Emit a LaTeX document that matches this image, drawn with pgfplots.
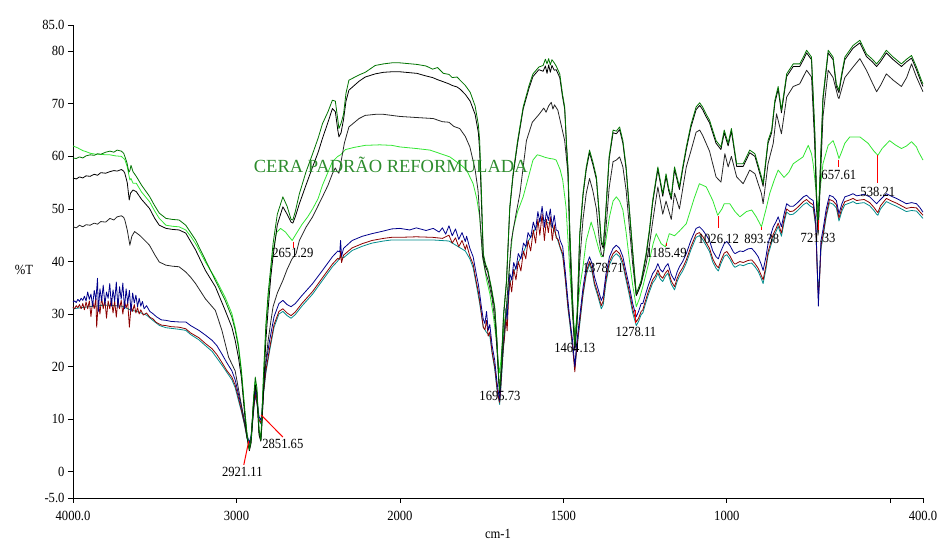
\documentclass[border=0pt]{standalone}
\usepackage{fontspec}
\setmainfont{Liberation Serif}
\newfontfamily\narrowfont{Liberation Serif}[FakeStretch=0.9]
\usepackage{pgfplots}
\pgfplotsset{compat=1.18}
\newcommand\lbl{\narrowfont\fontsize{14}{16}\selectfont}
\definecolor{dgreen}{RGB}{0,115,0}
\definecolor{lgreen}{RGB}{50,230,50}
\definecolor{navyb}{RGB}{0,0,140}
\definecolor{maroonr}{RGB}{140,0,0}
\definecolor{tealc}{RGB}{0,140,140}
\definecolor{titlegreen}{RGB}{45,140,45}
\definecolor{tickred}{RGB}{255,0,0}
\begin{document}
\begin{tikzpicture}
\useasboundingbox (-73pt,-42pt) rectangle (865pt,498pt);
\begin{axis}[
  at={(0,0)}, anchor=south west,
  scale only axis, width=850pt, height=473pt,
  x dir=reverse,
  xmin=-1200, xmax=4000, ymin=-5, ymax=85,
  axis lines*=left,
  axis line style={line width=0.8pt},
  xtick={4000,3000,2000,1000,0,-1000,-1200},
  xticklabels={4000.0,3000,2000,1500,1000,{},400.0},
  ytick={-5,0,10,20,30,40,50,60,70,80,85},
  yticklabels={-5.0,0,10,20,30,40,50,60,70,80,85.0},
  tick align=outside, major tick length=5pt,
  tick style={black, line width=0.8pt},
  minor tick num=0,
  ticklabel style={font=\lbl},
  xticklabel style={yshift=-5pt},
  xlabel={cm-1}, ylabel={\%T},
  xlabel style={at={(axis description cs:0.5,-0.076)}, anchor=center, font=\lbl},
  ylabel style={at={(axis description cs:-0.0576,0.482)}, anchor=center, rotate=-90, font=\lbl},
  every axis plot/.append style={mark=none, line width=0.8pt, line join=round,
    x filter/.code={\pgfmathparse{##1>=2000 ? ##1 : 2*##1-2000}}},
  clip=false,
]
% teal
\addplot[tealc] coordinates {(4000,31.0)(3900,31.4)(3800,31.7)(3700,31.5)(3650,30.8)(3600,30.4)(3550,29.8)(3512,28.8)(3470,27.8)(3431,27.4)(3351,27.1)(3310,26.9)(3280,26.1)(3230,25.1)(3190,24.0)(3149,22.9)(3089,20.3)(3028,17.5)(3008,16.0)(2988,13.6)(2970,11.5)(2950,8.8)(2935,6.3)(2921,5.0)(2910,6.3)(2895,11.5)(2885,14.5)(2875,13.0)(2862,9.8)(2851,9.1)(2845,10.2)(2835,14.6)(2820,18.8)(2797,23.0)(2770,27.5)(2740,30.0)(2716,30.5)(2690,29.7)(2666,29.2)(2640,29.9)(2600,31.5)(2534,33.8)(2474,36.4)(2413,39.0)(2380,40.1)(2363,41.0)(2345,40.7)(2292,42.1)(2230,42.9)(2171,43.5)(2100,43.9)(2050,44.1)(2000,44.1)(1900,44.1)(1850,43.9)(1800,42.0)(1786,40.5)(1776,38.8)(1766,35.5)(1756,32.0)(1745,27.5)(1735,26.5)(1725,25.8)(1718,22.5)(1710,19.5)(1703,15.5)(1695,12.8)(1690,17.0)(1684,23.0)(1676,29.0)(1664,35.8)(1652,38.0)(1638,39.8)(1622,41.8)(1608,43.8)(1592,45.5)(1578,47.2)(1565,48.2)(1552,47.5)(1540,47.2)(1528,46.0)(1516,43.8)(1502,41.0)(1494,36.5)(1486,31.0)(1480,28.0)(1472,23.5)(1465,20.0)(1460,22.5)(1450,28.0)(1440,33.5)(1430,37.5)(1420,39.5)(1412,38.0)(1405,35.5)(1395,33.5)(1384,31.0)(1378,31.8)(1370,35.8)(1359,39.4)(1348,40.9)(1338,41.5)(1328,40.9)(1318,39.3)(1308,36.4)(1298,33.5)(1288,30.2)(1277,27.8)(1270,28.6)(1262,29.9)(1257,30.2)(1250,31.7)(1240,33.7)(1227,35.9)(1218,36.7)(1211,37.8)(1204,36.7)(1196,36.2)(1188,37.2)(1180,37.8)(1170,35.7)(1160,34.6)(1152,36.2)(1145,37.2)(1135,38.2)(1124,39.7)(1110,42.2)(1094,44.6)(1084,44.9)(1074,44.2)(1063,43.0)(1053,41.9)(1043,39.9)(1033,38.7)(1026,38.2)(1018,39.6)(1008,41.0)(1000,41.3)(990,40.4)(980,39.2)(975,38.9)(960,39.4)(950,39.2)(935,39.6)(924,39.7)(914,39.0)(904,38.1)(895,36.8)(889,35.8)(880,38.7)(874,41.2)(866,42.9)(858,44.6)(850,45.6)(843,46.7)(833,44.8)(825,47.4)(817,49.4)(807,48.9)(797,49.0)(787,49.5)(777,50.1)(766,50.8)(756,51.2)(746,50.6)(736,50.2)(728,46.5)(724,39.5)(720,34.0)(716,37.5)(712,42.5)(706,44.5)(696,48.5)(686,51.2)(675,50.9)(665,50.2)(657,47.7)(648,49.6)(639,50.8)(625,51.1)(614,51.4)(603,51.0)(593,51.1)(580,51.2)(563,50.6)(550,49.7)(542,49.0)(538,48.8)(530,50.0)(512,51.4)(496,50.9)(481,50.5)(466,50.0)(451,49.5)(435,49.7)(420,49.6)(410,48.9)(400,48.2)};

% red
\addplot[maroonr] coordinates {(4000,31.3)(3990,31.0)(3980,31.6)(3970,31.2)(3960,31.8)(3950,31.0)(3940,32.0)(3930,30.8)(3920,32.3)(3910,31.0)(3900,32.5)(3890,29.5)(3880,32.4)(3870,31.0)(3860,33.0)(3855,27.5)(3845,32.5)(3835,30.0)(3825,33.2)(3815,31.0)(3805,32.8)(3795,29.2)(3785,32.5)(3775,31.0)(3765,33.0)(3755,30.2)(3745,32.5)(3735,29.4)(3725,32.8)(3715,31.0)(3705,32.6)(3695,30.0)(3685,32.4)(3675,31.2)(3665,32.2)(3655,27.5)(3645,31.5)(3635,30.5)(3625,31.8)(3615,30.2)(3605,31.2)(3595,30.0)(3585,30.8)(3570,29.8)(3550,30.2)(3530,29.4)(3512,29.1)(3490,28.4)(3460,27.9)(3431,27.8)(3400,27.6)(3351,27.5)(3310,27.2)(3280,26.4)(3230,25.5)(3190,24.4)(3149,23.4)(3120,22.3)(3089,20.8)(3060,19.3)(3028,18.0)(3008,16.5)(2988,14.1)(2970,11.8)(2950,9.0)(2935,6.5)(2921,5.2)(2910,6.5)(2895,11.8)(2885,14.8)(2875,13.2)(2862,10.0)(2851,9.3)(2845,10.5)(2835,15.0)(2820,19.2)(2797,23.5)(2770,28.0)(2740,30.5)(2716,31.0)(2690,30.2)(2666,29.7)(2640,30.4)(2600,32.0)(2534,34.3)(2474,36.9)(2413,39.5)(2380,40.6)(2368,40.4)(2363,42.0)(2357,39.8)(2345,41.2)(2292,42.6)(2230,43.4)(2171,44.0)(2100,44.4)(2050,44.6)(2000,44.6)(1950,44.7)(1900,44.6)(1870,44.4)(1850,45.0)(1840,43.5)(1830,44.5)(1820,42.8)(1810,44.0)(1800,42.3)(1796,43.2)(1786,41.0)(1776,39.5)(1766,36.0)(1760,34.2)(1756,32.5)(1750,29.8)(1745,27.5)(1740,27.0)(1735,28.8)(1730,25.8)(1725,26.6)(1718,22.8)(1710,20.0)(1703,16.0)(1698,14.0)(1695,13.2)(1692,15.5)(1688,20.0)(1684,23.5)(1680,25.5)(1676,29.5)(1672,26.8)(1668,32.5)(1664,36.5)(1658,34.2)(1652,38.5)(1645,36.5)(1638,40.0)(1630,38.2)(1622,42.0)(1615,40.5)(1608,44.0)(1600,42.0)(1592,46.0)(1585,43.5)(1578,48.0)(1572,45.0)(1565,49.0)(1558,44.0)(1552,48.0)(1546,45.5)(1540,48.5)(1534,44.0)(1528,47.0)(1522,44.5)(1516,44.2)(1510,42.8)(1502,41.5)(1494,36.8)(1486,31.5)(1480,28.5)(1472,24.0)(1465,19.0)(1460,23.0)(1450,28.5)(1440,34.0)(1430,38.0)(1420,40.0)(1412,38.5)(1405,36.0)(1395,34.0)(1384,31.6)(1378,32.5)(1370,36.5)(1359,40.0)(1348,41.5)(1338,42.1)(1328,41.5)(1318,39.9)(1308,37.0)(1298,34.2)(1288,31.0)(1277,28.5)(1270,29.2)(1262,30.5)(1257,30.8)(1250,32.3)(1240,34.3)(1227,36.5)(1218,37.3)(1211,38.4)(1204,37.3)(1196,36.8)(1188,37.8)(1180,38.4)(1170,36.3)(1160,35.2)(1152,36.8)(1145,37.8)(1135,38.8)(1124,40.3)(1110,42.8)(1094,45.2)(1084,45.5)(1074,44.8)(1063,43.6)(1053,42.5)(1043,40.5)(1033,39.3)(1026,38.8)(1018,40.2)(1008,41.6)(1000,41.9)(990,41.0)(980,39.8)(975,39.5)(960,40.0)(950,39.8)(935,40.2)(924,40.3)(914,39.6)(904,38.7)(895,37.4)(889,36.5)(880,39.3)(874,41.8)(866,43.5)(858,45.2)(850,46.2)(843,47.3)(833,45.4)(825,48.0)(817,50.0)(807,49.5)(797,49.6)(787,50.1)(777,50.7)(766,51.4)(756,51.8)(746,51.2)(736,50.8)(728,47.0)(724,39.0)(720,33.0)(716,37.0)(712,43.0)(706,45.0)(696,49.0)(686,51.8)(675,51.5)(665,50.8)(657,48.3)(648,50.2)(639,51.4)(625,51.7)(614,52.0)(603,51.6)(593,51.7)(580,51.8)(563,51.2)(550,50.3)(542,49.6)(538,49.3)(530,50.6)(512,52.0)(496,51.5)(481,51.1)(466,50.6)(451,50.1)(435,50.3)(420,50.2)(410,49.5)(400,48.8)};

% blue
\addplot[navyb] coordinates {(4000,32.3)(3990,32.5)(3980,32.2)(3970,32.8)(3960,32.4)(3950,33.0)(3940,32.6)(3930,33.4)(3920,32.5)(3910,34.2)(3900,32.8)(3890,33.8)(3880,31.5)(3870,34.5)(3860,32.7)(3850,36.8)(3845,30.5)(3835,34.8)(3825,32.5)(3815,35.5)(3805,31.8)(3795,34.2)(3785,33.0)(3775,35.8)(3765,31.5)(3755,34.6)(3745,32.4)(3735,36.1)(3725,31.2)(3715,35.2)(3705,32.8)(3695,35.9)(3685,31.0)(3675,34.8)(3665,32.0)(3655,34.5)(3645,30.5)(3635,34.0)(3625,32.1)(3615,33.6)(3605,31.4)(3595,33.0)(3585,31.5)(3575,32.4)(3565,31.0)(3550,31.6)(3530,30.5)(3512,30.1)(3490,29.5)(3460,28.9)(3431,28.8)(3400,28.6)(3351,28.5)(3310,28.5)(3280,27.8)(3230,26.9)(3190,26.0)(3149,25.0)(3120,24.0)(3089,22.4)(3060,20.8)(3028,19.2)(3008,17.5)(2988,14.8)(2970,12.5)(2950,9.5)(2935,7.0)(2921,5.5)(2910,7.0)(2895,12.5)(2885,15.5)(2875,14.0)(2862,10.5)(2851,9.8)(2845,11.0)(2835,16.0)(2820,20.5)(2797,25.0)(2770,29.5)(2740,32.0)(2716,32.6)(2690,31.8)(2666,31.4)(2640,32.0)(2600,33.5)(2534,35.8)(2474,38.3)(2413,40.9)(2380,42.0)(2368,41.8)(2363,44.0)(2357,41.0)(2345,42.5)(2292,44.0)(2230,44.8)(2171,45.3)(2100,45.8)(2050,46.2)(2000,46.3)(1970,46.0)(1950,46.4)(1920,45.9)(1898,46.3)(1880,45.6)(1870,46.4)(1860,45.2)(1850,46.8)(1840,44.9)(1830,46.2)(1820,44.2)(1810,45.5)(1800,43.8)(1796,44.8)(1786,42.5)(1776,40.9)(1766,37.5)(1760,35.6)(1756,33.9)(1750,31.0)(1745,29.0)(1740,28.2)(1735,30.5)(1730,26.9)(1725,28.0)(1718,24.0)(1710,21.2)(1703,17.0)(1698,14.8)(1695,13.6)(1692,16.5)(1688,21.0)(1684,25.0)(1680,27.0)(1676,31.0)(1672,29.0)(1668,34.0)(1664,37.7)(1658,36.5)(1652,39.8)(1645,38.5)(1638,41.5)(1630,40.5)(1622,43.5)(1615,42.8)(1608,45.5)(1600,44.5)(1592,47.5)(1585,46.0)(1578,49.5)(1572,47.5)(1565,50.5)(1558,46.5)(1552,49.5)(1546,47.8)(1540,50.0)(1534,46.5)(1528,48.8)(1522,46.0)(1516,45.8)(1510,44.0)(1502,42.8)(1494,38.0)(1486,32.6)(1481,29.5)(1472,25.0)(1465,20.0)(1460,24.0)(1450,29.5)(1440,35.0)(1430,39.0)(1420,40.9)(1412,39.5)(1405,37.1)(1395,35.0)(1384,32.6)(1378,33.5)(1370,37.5)(1359,40.9)(1348,42.5)(1338,43.1)(1328,42.5)(1318,40.9)(1308,38.0)(1298,35.2)(1288,32.0)(1277,29.5)(1270,30.5)(1262,32.0)(1257,32.0)(1250,33.5)(1240,35.5)(1227,37.7)(1218,38.5)(1211,39.6)(1204,38.5)(1196,38.0)(1188,39.0)(1180,39.6)(1170,37.5)(1160,36.4)(1152,38.0)(1145,39.0)(1135,40.0)(1124,41.5)(1110,44.0)(1094,46.3)(1084,46.6)(1074,46.0)(1063,45.0)(1053,44.0)(1043,42.0)(1033,40.9)(1026,40.5)(1018,42.0)(1008,43.4)(1000,43.8)(990,43.0)(980,41.8)(975,41.5)(960,42.0)(950,41.9)(935,42.4)(924,42.5)(914,41.8)(904,40.9)(895,39.5)(889,38.3)(880,41.0)(874,43.4)(866,45.0)(858,46.6)(850,47.5)(843,48.5)(833,46.6)(825,49.0)(817,51.0)(807,50.5)(797,50.5)(787,51.0)(777,51.6)(766,52.3)(756,52.6)(746,52.0)(736,51.6)(728,48.0)(724,40.0)(720,31.5)(716,38.0)(712,44.0)(706,46.0)(696,50.0)(686,52.6)(675,52.3)(665,51.6)(657,49.1)(648,51.0)(639,52.3)(625,52.6)(614,52.9)(603,52.5)(593,52.6)(580,52.8)(563,52.3)(550,51.5)(542,51.0)(530,51.8)(512,52.9)(496,52.4)(481,52.0)(466,51.5)(451,51.0)(435,51.2)(420,51.0)(410,50.3)(400,49.4)};

% lime
\addplot[lgreen] coordinates {(4000,62.0)(3970,61.6)(3940,61.1)(3920,60.9)(3895,60.6)(3860,60.4)(3830,60.4)(3800,60.3)(3774,60.3)(3740,60.1)(3704,60.0)(3683,59.4)(3668,58.0)(3652,55.5)(3645,55.8)(3633,54.9)(3613,54.9)(3580,53.2)(3532,51.4)(3500,49.6)(3472,48.2)(3431,46.9)(3390,46.7)(3351,46.6)(3310,46.0)(3280,44.8)(3250,43.4)(3190,39.9)(3129,36.8)(3069,33.2)(3028,30.1)(3008,27.5)(2988,24.3)(2970,19.5)(2950,12.0)(2935,7.0)(2921,4.5)(2910,6.5)(2895,14.0)(2885,17.0)(2875,15.5)(2862,8.0)(2851,6.5)(2845,10.0)(2835,18.0)(2820,27.0)(2806,33.0)(2790,38.0)(2776,42.0)(2755,45.5)(2730,46.3)(2700,45.6)(2680,44.8)(2659,44.0)(2640,45.0)(2600,47.0)(2564,48.5)(2534,50.0)(2500,52.0)(2474,54.5)(2440,57.0)(2413,59.0)(2380,60.0)(2363,60.3)(2333,61.3)(2282,61.7)(2212,62.1)(2123,62.2)(2050,62.1)(2000,61.8)(1950,61.5)(1908,61.2)(1847,59.9)(1810,58.2)(1796,57.4)(1776,54.8)(1765,52.0)(1756,48.5)(1747,40.9)(1735,36.5)(1725,33.9)(1715,30.0)(1705,25.0)(1698,20.0)(1695,18.8)(1690,22.0)(1682,27.5)(1674,31.4)(1664,40.0)(1654,46.0)(1640,49.5)(1623,52.3)(1605,56.5)(1593,59.3)(1580,60.3)(1573,60.2)(1555,59.8)(1542,59.6)(1530,59.5)(1522,59.3)(1510,57.5)(1502,55.5)(1492,50.4)(1481,39.0)(1472,30.0)(1465,26.0)(1458,30.0)(1450,35.0)(1440,39.0)(1430,44.0)(1415,47.5)(1405,45.5)(1399,44.0)(1390,42.0)(1384,40.9)(1378,41.0)(1370,44.0)(1359,48.5)(1348,51.5)(1338,52.3)(1328,51.5)(1318,49.8)(1308,45.5)(1298,40.2)(1288,35.5)(1277,31.4)(1267,33.0)(1257,35.2)(1237,40.2)(1225,43.5)(1216,45.3)(1201,43.4)(1188,42.8)(1176,45.3)(1160,44.9)(1145,45.8)(1124,47.2)(1100,52.0)(1084,54.8)(1063,54.2)(1043,51.6)(1028,48.8)(1015,50.0)(1008,51.0)(991,51.0)(975,49.5)(960,48.5)(940,49.5)(924,49.8)(910,48.5)(894,46.6)(880,50.0)(869,52.9)(855,55.5)(843,57.4)(825,56.0)(810,57.0)(797,58.6)(767,59.9)(751,62.1)(741,60.5)(736,58.6)(728,54.0)(721,49.7)(714,54.0)(706,58.6)(690,62.1)(675,63.0)(666,61.5)(657,59.6)(648,61.0)(639,62.5)(624,63.7)(593,63.7)(568,62.5)(550,61.0)(538,60.2)(525,61.5)(502,63.0)(485,62.2)(466,61.5)(450,62.0)(435,62.8)(420,61.8)(414,60.9)(400,59.3)};

% lower black K2
\addplot[black!85] coordinates {(4000,46.6)(3980,46.4)(3960,46.9)(3940,46.6)(3920,47.0)(3895,46.9)(3870,47.3)(3850,47.1)(3830,47.6)(3800,47.5)(3774,48.2)(3750,47.9)(3730,48.5)(3704,48.7)(3690,48.4)(3683,47.9)(3668,46.0)(3652,43.1)(3640,44.8)(3623,45.7)(3593,45.0)(3560,44.0)(3532,43.1)(3500,41.3)(3472,39.9)(3431,39.3)(3390,39.1)(3351,39.0)(3310,38.0)(3280,37.0)(3250,35.8)(3190,32.9)(3129,30.7)(3089,26.9)(3048,21.8)(3008,19.2)(2978,14.1)(2960,11.0)(2940,7.5)(2921,4.3)(2910,6.5)(2895,13.5)(2885,16.0)(2875,14.5)(2862,7.5)(2851,6.0)(2845,9.0)(2835,15.0)(2820,21.0)(2806,25.0)(2790,28.5)(2776,31.4)(2750,34.0)(2716,36.4)(2690,38.5)(2660,40.5)(2635,41.5)(2615,44.0)(2575,46.5)(2534,48.5)(2474,52.3)(2440,54.5)(2413,56.7)(2395,57.8)(2385,57.2)(2373,56.8)(2360,59.0)(2340,62.5)(2312,65.6)(2250,67.2)(2212,67.8)(2150,68.0)(2100,68.0)(2050,67.8)(2000,67.6)(1950,67.4)(1898,67.2)(1870,66.6)(1850,66.5)(1835,65.7)(1817,65.3)(1800,63.8)(1786,61.8)(1770,57.5)(1761,53.5)(1754,47.0)(1747,40.9)(1738,38.0)(1730,36.4)(1718,33.0)(1708,28.0)(1700,20.0)(1695,15.5)(1688,20.0)(1680,27.0)(1674,31.4)(1659,44.0)(1645,49.0)(1633,52.9)(1613,63.0)(1595,66.5)(1573,68.1)(1560,69.2)(1553,68.4)(1545,69.6)(1537,70.3)(1532,69.0)(1527,69.8)(1517,68.8)(1505,65.5)(1496,63.0)(1486,56.7)(1480,42.0)(1472,30.0)(1465,23.0)(1458,28.0)(1450,40.0)(1440,48.0)(1430,53.0)(1420,55.8)(1410,53.5)(1399,50.0)(1390,44.0)(1384,41.5)(1378,40.9)(1370,46.0)(1360,54.0)(1348,59.0)(1338,59.3)(1328,59.9)(1318,58.0)(1308,53.5)(1298,46.5)(1288,39.5)(1277,33.5)(1270,34.5)(1262,35.8)(1247,39.5)(1237,43.0)(1227,47.5)(1211,54.2)(1196,49.0)(1186,51.5)(1170,48.0)(1160,53.0)(1145,50.0)(1124,58.0)(1110,61.0)(1094,64.6)(1083,65.0)(1074,64.0)(1053,61.0)(1033,56.1)(1018,55.1)(1006,60.5)(996,58.0)(986,60.0)(970,56.1)(950,54.8)(930,57.4)(914,56.7)(894,52.9)(889,51.0)(874,58.6)(858,62.5)(848,68.1)(833,64.3)(817,71.3)(797,73.3)(777,73.8)(756,76.4)(741,75.1)(731,62.0)(725,50.0)(721,45.0)(716,52.0)(706,67.5)(690,76.4)(675,75.0)(660,71.3)(657,71.0)(648,73.0)(639,75.0)(614,77.0)(593,78.6)(573,76.4)(555,74.0)(542,72.3)(530,73.5)(512,75.7)(491,74.5)(466,73.3)(450,75.0)(435,77.6)(420,75.1)(400,72.3)};

% upper black K1
\addplot[black] coordinates {(4000,55.9)(3980,55.7)(3960,56.1)(3940,55.9)(3920,56.3)(3895,56.2)(3870,56.6)(3850,56.4)(3830,56.9)(3800,56.8)(3774,57.1)(3750,57.3)(3730,57.2)(3704,57.5)(3690,57.2)(3683,56.8)(3668,55.0)(3656,51.7)(3648,53.0)(3633,53.6)(3613,53.3)(3580,51.8)(3532,50.1)(3500,48.2)(3472,46.9)(3431,46.3)(3390,46.1)(3351,46.0)(3310,45.4)(3280,43.8)(3250,42.2)(3190,38.3)(3129,35.2)(3069,30.7)(3028,27.5)(3008,25.0)(2988,21.8)(2970,18.0)(2950,11.0)(2935,6.5)(2921,4.0)(2910,5.5)(2895,13.0)(2885,16.5)(2875,15.0)(2862,7.0)(2851,5.8)(2845,8.5)(2835,15.0)(2820,25.0)(2806,31.0)(2790,37.0)(2776,41.0)(2750,47.0)(2716,50.4)(2690,49.0)(2666,47.5)(2655,47.3)(2640,48.5)(2615,51.0)(2575,54.5)(2534,58.0)(2500,60.8)(2474,63.4)(2440,66.5)(2413,69.1)(2395,68.5)(2380,65.0)(2373,63.7)(2360,64.5)(2345,67.0)(2330,70.5)(2312,72.6)(2250,74.3)(2212,75.1)(2151,75.7)(2100,76.0)(2050,76.1)(2000,76.1)(1948,75.8)(1920,75.3)(1900,75.0)(1885,74.6)(1867,74.2)(1850,73.8)(1840,73.5)(1825,73.2)(1816,72.8)(1800,71.8)(1785,70.5)(1770,68.0)(1760,64.5)(1756,61.0)(1750,50.0)(1745,41.0)(1738,39.0)(1731,38.0)(1720,34.5)(1710,31.0)(1703,24.5)(1698,17.5)(1695,15.0)(1690,19.5)(1683,29.5)(1674,36.0)(1664,50.0)(1654,56.2)(1640,62.5)(1623,69.0)(1605,73.0)(1593,75.2)(1575,76.5)(1562,76.2)(1555,77.2)(1550,75.8)(1545,77.4)(1540,76.0)(1535,77.3)(1528,76.4)(1522,76.5)(1511,75.0)(1503,71.5)(1496,69.0)(1490,61.5)(1486,57.5)(1480,44.8)(1472,32.5)(1465,23.5)(1458,29.5)(1450,44.8)(1440,52.5)(1430,57.5)(1420,60.7)(1410,58.5)(1399,55.6)(1390,48.5)(1384,43.5)(1378,42.5)(1370,49.5)(1360,59.5)(1348,64.5)(1338,64.3)(1328,65.1)(1318,62.5)(1308,57.5)(1298,49.5)(1288,41.6)(1277,33.6)(1270,34.5)(1262,35.9)(1247,41.0)(1237,45.5)(1227,51.1)(1211,57.5)(1196,52.4)(1186,56.2)(1178,53.5)(1170,51.8)(1160,57.5)(1145,53.7)(1135,57.5)(1124,61.3)(1110,65.5)(1094,68.9)(1083,69.7)(1074,68.9)(1063,67.5)(1053,66.4)(1033,62.5)(1018,61.3)(1008,64.5)(996,62.0)(986,64.8)(970,58.1)(950,58.1)(930,60.7)(914,60.0)(894,55.6)(889,54.3)(874,62.5)(863,64.5)(853,70.2)(843,72.8)(833,68.3)(817,75.2)(797,77.1)(777,77.1)(765,78.5)(756,79.7)(741,78.4)(731,64.0)(725,50.0)(721,45.5)(716,54.0)(706,70.8)(690,79.7)(675,78.4)(665,73.3)(657,72.1)(648,75.5)(639,78.4)(614,80.6)(593,81.6)(573,79.0)(555,78.0)(542,77.1)(530,78.0)(512,79.7)(491,78.4)(466,77.1)(450,78.0)(435,78.7)(420,76.5)(405,74.0)(400,73.3)};

% dark green G
\addplot[dgreen] coordinates {(4000,59.7)(3980,59.6)(3960,59.9)(3940,59.7)(3920,60.1)(3895,60.3)(3870,60.2)(3850,60.5)(3830,60.4)(3800,60.8)(3774,61.0)(3750,60.8)(3730,61.2)(3704,61.0)(3690,60.6)(3683,60.0)(3670,58.8)(3658,57.0)(3652,57.3)(3645,58.3)(3633,57.1)(3613,56.2)(3580,54.5)(3532,52.4)(3500,50.6)(3472,49.2)(3431,48.2)(3390,48.0)(3351,47.9)(3310,46.9)(3280,45.5)(3250,44.1)(3190,40.3)(3129,36.4)(3069,32.6)(3028,29.4)(3008,27.0)(2988,23.7)(2970,19.0)(2950,12.0)(2935,7.0)(2921,4.2)(2910,6.0)(2895,14.0)(2885,18.0)(2875,16.0)(2862,8.0)(2851,6.0)(2845,10.0)(2835,18.0)(2820,28.0)(2806,34.0)(2790,39.0)(2776,43.4)(2750,49.0)(2716,52.3)(2690,50.5)(2666,48.0)(2655,47.9)(2640,49.5)(2615,52.9)(2575,57.0)(2534,60.5)(2500,63.5)(2474,66.2)(2440,68.5)(2413,70.7)(2395,70.5)(2380,67.0)(2373,65.3)(2360,66.3)(2345,68.0)(2330,72.0)(2312,74.5)(2250,75.5)(2212,76.0)(2151,77.3)(2100,77.6)(2050,77.8)(2000,77.8)(1948,77.5)(1920,77.2)(1900,76.6)(1885,76.9)(1867,75.8)(1850,75.6)(1840,75.0)(1825,75.1)(1816,74.5)(1800,73.5)(1785,72.2)(1770,69.6)(1760,66.0)(1756,63.0)(1750,52.0)(1745,41.5)(1738,39.5)(1731,38.4)(1720,35.0)(1710,31.4)(1703,25.0)(1698,18.0)(1695,15.5)(1690,20.0)(1683,30.0)(1674,36.4)(1664,50.4)(1654,56.7)(1640,63.0)(1623,69.4)(1605,73.5)(1593,75.7)(1575,77.0)(1562,77.3)(1555,78.5)(1550,77.6)(1545,78.6)(1540,77.4)(1535,78.4)(1528,77.8)(1522,77.2)(1511,75.7)(1503,72.0)(1496,69.4)(1490,62.0)(1486,58.0)(1480,45.3)(1472,33.0)(1465,24.0)(1458,30.0)(1450,45.3)(1440,53.0)(1430,58.0)(1420,61.2)(1410,59.0)(1399,56.1)(1390,49.0)(1384,44.0)(1378,43.0)(1370,50.0)(1360,60.0)(1348,65.0)(1338,64.8)(1328,65.6)(1318,63.0)(1308,58.0)(1298,50.0)(1288,42.1)(1277,33.9)(1270,35.0)(1262,36.4)(1247,41.5)(1237,46.0)(1227,51.6)(1211,58.0)(1196,52.9)(1186,56.7)(1178,54.0)(1170,52.3)(1160,58.0)(1145,54.2)(1135,58.0)(1124,61.8)(1110,66.0)(1094,69.4)(1083,70.2)(1074,69.4)(1063,68.0)(1053,66.9)(1033,63.0)(1018,61.8)(1008,65.0)(996,62.5)(986,65.3)(970,58.6)(950,58.6)(930,61.2)(914,60.5)(894,56.1)(889,54.8)(874,63.0)(863,65.0)(853,70.7)(843,73.3)(833,68.8)(817,75.7)(797,77.6)(777,77.6)(765,79.0)(756,80.2)(741,78.9)(731,65.0)(725,52.0)(721,47.0)(716,55.0)(706,71.3)(690,80.2)(675,78.9)(665,73.8)(657,72.6)(648,76.0)(639,78.9)(614,81.1)(593,82.1)(573,79.5)(555,78.5)(542,77.6)(530,78.5)(512,80.2)(491,78.9)(466,77.6)(450,78.5)(435,79.2)(420,77.0)(405,74.5)(400,73.8)};

\node[font=\fontsize{18.5}{20}\selectfont, text=titlegreen] at (axis cs:2056,58.3) {CERA PADRÃO REFORMULADA};
\node[font=\lbl] at (axis cs:2964,0.0) {2921.11};
\node[font=\lbl] at (axis cs:2716,5.3) {2851.65};
\node[font=\lbl] at (axis cs:2655,41.6) {2651.29};
\node[font=\lbl] at (axis cs:1388,14.4) {1695.73};
\node[font=\lbl] at (axis cs:930,23.5) {1464.13};
\node[font=\lbl] at (axis cs:756,38.7) {1378.71};
\node[font=\lbl] at (axis cs:556,26.6) {1278.11};
\node[font=\lbl] at (axis cs:370,41.6) {1185.49};
\node[font=\lbl] at (axis cs:52,44.3) {1026.12};
\node[font=\lbl] at (axis cs:-214,44.3) {893.38};
\node[font=\lbl] at (axis cs:-558,44.4) {721.33};
\node[font=\lbl] at (axis cs:-684.8,56.4) {657.61};
\node[font=\lbl] at (axis cs:-923.6,53.2) {538.21};
\draw[tickred, line width=1pt] (axis cs:2925,5.8) -- (axis cs:2955,1.3);
\draw[tickred, line width=1pt] (axis cs:2849,10.8) -- (axis cs:2716,6.6);
\draw[tickred, line width=1pt] (axis cs:2651,43.8) -- (axis cs:2651,42.5);
\draw[tickred, line width=1pt] (axis cs:556,30.8) -- (axis cs:556,28.3);
\draw[tickred, line width=1pt] (axis cs:370,43.6) -- (axis cs:370,42.9);
\draw[tickred, line width=1pt] (axis cs:52,48.6) -- (axis cs:52,46.3);
\draw[tickred, line width=1pt] (axis cs:-214,46.5) -- (axis cs:-214,45.9);
\draw[tickred, line width=1pt] (axis cs:-558,47.9) -- (axis cs:-558,45.9);
\draw[tickred, line width=1pt] (axis cs:-684.8,59.4) -- (axis cs:-684.8,57.9);
\draw[tickred, line width=1pt] (axis cs:-923.6,60.2) -- (axis cs:-923.6,54.9);
\end{axis}
\end{tikzpicture}
\end{document}
